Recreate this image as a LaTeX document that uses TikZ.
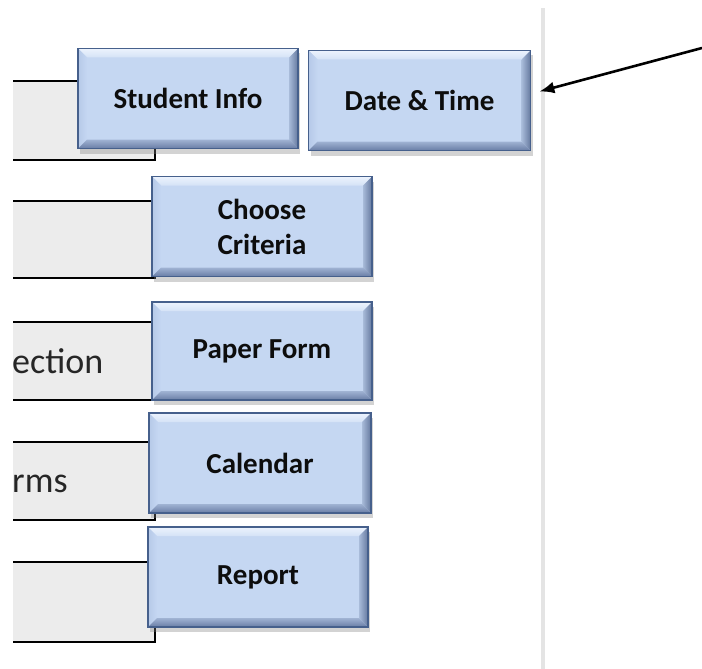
\documentclass[tikz,border=0pt]{standalone}
\usepackage{fontspec}
\setmainfont{Carlito}
\usepackage{tikz}
\usetikzlibrary{arrows.meta,shadows,positioning}

\definecolor{btnfill}{RGB}{197,215,242}
\definecolor{btnedge}{RGB}{70,96,140}
\definecolor{bevtop}{RGB}{236,243,253}
\definecolor{bevleft}{RGB}{182,201,232}
\definecolor{bevright}{RGB}{100,120,158}
\definecolor{bevbot}{RGB}{105,125,165}
\definecolor{cellgray}{RGB}{236,236,236}
\definecolor{sepline}{RGB}{228,228,228}

\tikzset{
    btn/.style={draw=btnedge, line width=1.6pt, fill=btnfill,
        minimum width=220pt, minimum height=100pt, inner sep=0pt,
        align=center, text=black!95,
        font=\bfseries\fontsize{29}{35}\selectfont,
        drop shadow={shadow xshift=2pt, shadow yshift=-5pt, opacity=0.35},
        path picture={
            \path (path picture bounding box.north west) coordinate (bnw)
                  (path picture bounding box.north east) coordinate (bne)
                  (path picture bounding box.south east) coordinate (bse)
                  (path picture bounding box.south west) coordinate (bsw);
            \path ([xshift=9pt,yshift=-9pt]bnw) coordinate (inw)
                  ([xshift=-9pt,yshift=-9pt]bne) coordinate (ine)
                  ([xshift=-9pt,yshift=9pt]bse) coordinate (ise)
                  ([xshift=9pt,yshift=9pt]bsw) coordinate (isw);
            \shade[top color=bevtop, bottom color=btnfill!60!bevtop] (bnw) -- (bne) -- (ine) -- (inw) -- cycle;
            \shade[left color=bevleft, right color=btnfill] (bnw) -- (inw) -- (isw) -- (bsw) -- cycle;
            \shade[left color=btnfill!70!bevright, right color=bevright] (bne) -- (bse) -- (ise) -- (ine) -- cycle;
            \shade[top color=btnfill!60!bevbot, bottom color=bevbot] (bsw) -- (isw) -- (ise) -- (bse) -- cycle;
        }},
    celltext/.style={anchor=base west, inner sep=0pt, text=black!85,
        font=\fontsize{36}{40}\selectfont}
}

\begin{document}
\begin{tikzpicture}[x=1pt, y=-1pt]
    \useasboundingbox (0,0) rectangle (702,669);

    % divider
    \draw[line width=4pt, sepline] (543,8) -- (543,669);

    % cells
    \foreach \t/\b in {81/160, 201/278, 322/400, 442/520, 562/642} {
        \fill[cellgray] (13,\t) rectangle (155,\b);
        \draw[line width=1.2pt] (13,\t) -- (155,\t) -- (155,\b) -- (13,\b);
    }
    \node[celltext] (sect) at (12,373) {ection};
    \node[celltext] (sforms) at (12,492) {rms};

    % buttons
    \node[btn] (stuinfo) at (188,98.5) {Student Info};
    \node[btn, minimum width=222pt, right=9pt of stuinfo, yshift=-2pt] (datetime) {Date \& Time};
    \node[btn] (criteria) at (262,226.5) {Choose\\Criteria};
    \node[btn, minimum height=98pt] (paper) at (262,351) {Paper Form};
    \node[btn, minimum width=222pt] (calendar) at (260,463) {Calendar};
    \node[btn] (report) at (258,577) {Report};

    % pointer
    \coordinate (arrtail) at (702,48);
    \draw[line width=2.6pt, -{Latex[length=15pt,width=12pt]}] (arrtail) -- ([shift={(8,-9)}]datetime.east);
\end{tikzpicture}
\end{document}
